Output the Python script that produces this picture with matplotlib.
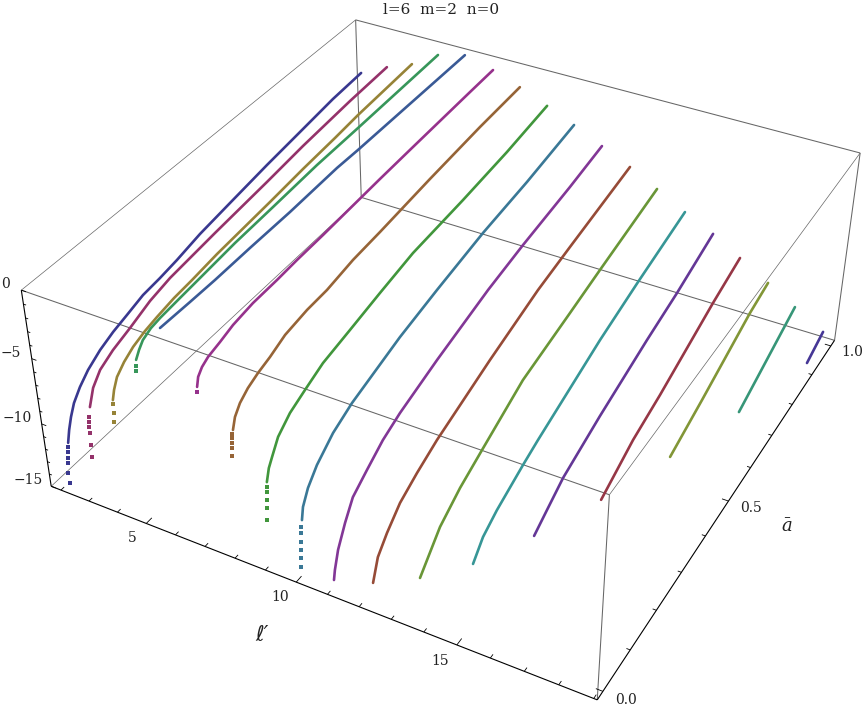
import numpy as np
import matplotlib
matplotlib.use('Agg')
import matplotlib.pyplot as plt

plt.rcParams['font.family'] = ['DejaVu Serif', 'DejaVu Sans']
plt.rcParams['mathtext.fontset'] = 'dejavuserif'

# l' of each curve, then abar and value along it
lp = [2.1, 3.1, 4.1, 5.1, 6.1, 7.1, 8.1, 9.1, 10.1, 11.1, 12.1, 13.1, 14.1, 15.1, 16.1, 17.1, 18.1, 19.1]

a1 = [0.991, 0.884, 0.753, 0.648, 0.523, 0.425, 0.352, 0.299, 0.248, 0.199, 0.158, 0.119, 0.082, 0.056, 0.036, 0.024, 0.015, 0.008, 0.006, 0.004, 0.002, 0.001, -0.003, -0.002]
z1 = [-3.52, -3.69, -4.11, -4.44, -4.91, -5.29, -5.73, -5.97, -6.13, -6.55, -6.89, -7.35, -8.00, -8.69, -9.43, -10.21, -11.00, -11.85, -12.13, -12.48, -12.91, -13.3, -14.0, -14.84]
a2 = [0.991, 0.851, 0.682, 0.559, 0.390, 0.252, 0.192, 0.132, 0.082, 0.044, 0.021, 0.007, 0.002, 0.0, -0.002, -0.001, -0.003, -0.004]
z2 = [-2.47, -2.64, -2.98, -3.34, -3.77, -4.18, -4.56, -5.21, -5.69, -6.26, -7.06, -8.18, -8.80, -9.15, -9.49, -9.97, -10.88, -11.78]
a3 = [0.986, 0.782, 0.700, 0.589, 0.479, 0.311, 0.235, 0.182, 0.132, 0.097, 0.063, 0.036, 0.014, 0.003, -0.003, -0.004, -0.004, -0.007]
z3 = [-1.56, -1.86, -2.07, -2.29, -2.58, -2.96, -3.23, -3.37, -3.63, -3.86, -4.21, -4.68, -5.26, -5.95, -6.57, -6.84, -7.51, -8.13]
a4 = [0.983, 0.685, 0.544, 0.401, 0.283, 0.174, 0.122, 0.066, 0.040, 0.017, 0.005, -0.005, -0.007, -0.008]
z4 = [-0.21, -0.40, -0.46, -0.68, -0.84, -1.12, -1.25, -1.40, -1.53, -1.84, -2.26, -2.74, -3.14, -3.47]
a5 = [0.981, 0.587, 0.516, 0.364, 0.242, 0.140, 0.070, -0.011]
z5 = [0.38, 0.47, 0.53, 0.40, 0.40, 0.36, 0.39, 0.45]
a6 = [0.983, 0.891, 0.673, 0.560, 0.371, 0.289, 0.228, 0.156, 0.098, 0.060, 0.026, 0.008, -0.004, -0.009, -0.010]
z6 = [-0.24, -0.29, -0.44, -0.53, -0.74, -0.79, -0.88, -0.92, -1.14, -1.46, -1.70, -1.99, -2.40, -3.00, -3.33]
a7 = [0.979, 0.820, 0.632, 0.458, 0.368, 0.284, 0.222, 0.155, 0.109, 0.073, 0.043, 0.019, 0.003, -0.005, -0.008, -0.009, -0.010, -0.011, -0.013]
z7 = [-0.92, -1.04, -1.33, -1.68, -1.81, -2.15, -2.19, -2.44, -2.94, -3.23, -3.58, -4.06, -4.67, -5.42, -5.63, -5.90, -6.24, -6.59, -7.14]
a8 = [0.976, 0.813, 0.645, 0.466, 0.354, 0.256, 0.171, 0.115, 0.069, 0.032, 0.012, 0.001, -0.007, -0.008, -0.009, -0.010, -0.012, -0.014]
z8 = [-1.73, -2.22, -2.53, -2.74, -3.23, -3.71, -4.11, -4.71, -5.24, -6.05, -7.01, -7.56, -8.40, -8.75, -9.11, -9.68, -10.25, -11.11]
a9 = [0.971, 0.778, 0.609, 0.443, 0.316, 0.160, 0.100, 0.049, 0.020, 0.003, -0.002, -0.006, -0.007, -0.008, -0.010, -0.011, -0.013]
z9 = [-2.53, -3.20, -3.61, -4.29, -4.90, -6.00, -6.70, -7.75, -8.70, -9.67, -10.54, -10.96, -11.40, -12.06, -12.65, -13.24, -13.92]
a10 = [0.970, 0.835, 0.648, 0.517, 0.336, 0.211, 0.155, 0.103, 0.058, 0.032, 0.008, -0.004, -0.008]
z10 = [-3.55, -4.09, -4.68, -5.23, -6.32, -7.23, -7.83, -8.73, -9.56, -10.80, -12.21, -13.45, -14.12]
a11 = [0.969, 0.717, 0.591, 0.413, 0.228, 0.161, 0.105, 0.062, 0.032, 0.015]
z11 = [-4.55, -5.62, -6.19, -7.41, -8.89, -9.64, -10.41, -11.53, -12.54, -14.07]
a12 = [0.963, 0.719, 0.599, 0.420, 0.274, 0.198, 0.130, 0.063]
z12 = [-5.53, -6.77, -7.42, -8.35, -10.03, -10.93, -12.08, -14.15]
a13 = [0.961, 0.756, 0.600, 0.362, 0.308, 0.215, 0.167, 0.133]
z13 = [-6.67, -7.81, -8.80, -10.74, -11.25, -12.26, -13.01, -14.16]
a14 = [0.959, 0.798, 0.670, 0.480, 0.340, 0.281, 0.235]
z14 = [-7.70, -8.93, -9.71, -11.07, -12.27, -13.21, -13.96]
a15 = [0.951, 0.828, 0.601, 0.491, 0.367]
z15 = [-8.78, -9.66, -11.63, -12.42, -13.89]
a16 = [0.949, 0.864, 0.652, 0.518]
z16 = [-10.05, -10.56, -12.52, -13.66]
a17 = [0.939, 0.683]
z17 = [-11.07, -13.47]
a18 = [0.936, 0.859]
z18 = [-12.29, -13.02]

abar = [a1, a2, a3, a4, a5, a6, a7, a8, a9, a10, a11, a12, a13, a14, a15, a16, a17, a18]
vals = [z1, z2, z3, z4, z5, z6, z7, z8, z9, z10, z11, z12, z13, z14, z15, z16, z17, z18]
# last points of a curve stand apart as single dots
n_dots = [6, 6, 3, 2, 0, 1, 5, 5, 6, 0, 0, 0, 0, 0, 0, 0, 0, 0]
colors = ['#39388f', '#94326a', '#968337', '#37965a', '#3a5a96', '#96328c', '#966437', '#41963c', '#3a7896',
          '#823796', '#964b37', '#699637', '#379696', '#643796', '#963746', '#829637', '#379678', '#463796']

lmin, lmax = 1.65, 19.1
amin, amax = -0.02, 1.02
zmin, zmax = -15, 0

fig = plt.figure(figsize=(8.64, 7.10), dpi=100)
S = np.exp(6.7464)
cx, cy = 449.82, 328.80
ax = fig.add_axes([(cx - S/2)/864, (710 - cy - S/2)/710, S/864, S/710], projection='3d')
ax.set_xlim(lmin, lmax, view_margin=0)
ax.set_ylim(amin, amax, view_margin=0)
ax.set_zlim(zmin, zmax, view_margin=0)
ax.view_init(36.1323, -61.6536, -0.1571)
ax.set_proj_type('persp', focal_length=np.exp(-0.8077))
ax.set_box_aspect((1, np.exp(0.0054), np.exp(-0.9201)))
ax.set_axis_off()
ax.computed_zorder = False

def seg(x, y, z, c='#666666', lw=0.75, zo=1):
    ax.plot(x, y, z, color=c, lw=lw, zorder=zo, clip_on=False, solid_capstyle='butt')

# box
seg([lmin, lmin], [amin, amax], [zmax, zmax], lw=0.5)
seg([lmin, lmax], [amax, amax], [zmax, zmax])
seg([lmax, lmax], [amin, amax], [zmax, zmax], lw=0.5)
seg([lmin, lmax], [amin, amin], [zmax, zmax])
seg([lmin, lmin], [amin, amax], [zmin, zmin], lw=0.5)
seg([lmin, lmax], [amax, amax], [zmin, zmin])
seg([lmin, lmin], [amax, amax], [zmin, zmax])
seg([lmax, lmax], [amax, amax], [zmin, zmax])
seg([lmax, lmax], [amin, amin], [zmin, zmax])

# axes in front
seg([lmin, lmin], [amin, amin], [zmin, zmax], c='k', lw=0.8, zo=2)
seg([lmin, lmax], [amin, amin], [zmin, zmin], c='k', lw=0.8, zo=2)
seg([lmax, lmax], [amin, amax], [zmin, zmin], c='k', lw=0.8, zo=2)

for t in range(-15, 1):
    d = 0.16 if t % 5 == 0 else 0.09
    seg([lmin, lmin + d], [amin, amin], [t, t], c='k', lw=0.6, zo=2)
for t in range(2, 20):
    d = 0.016 if t % 5 == 0 else 0.009
    seg([t, t], [amin, amin + d], [zmin, zmin], c='k', lw=0.6, zo=2)
for i in range(11):
    d = 0.2 if i % 5 == 0 else 0.11
    seg([lmax, lmax - d], [i/10, i/10], [zmin, zmin], c='k', lw=0.6, zo=2)

# curves
for l, a, z, nd, c in zip(lp, abar, vals, n_dots, colors):
    a = np.array(a)
    z = np.array(z)
    x = np.full(len(a), l)
    n = len(a) - nd
    ax.plot(x[:n], a[:n], z[:n], color=c, lw=1.9, zorder=3, clip_on=False, solid_capstyle='round', solid_joinstyle='round')
    if nd:
        ax.plot(x[n:], a[n:], z[n:], ls='none', marker='s', ms=2.8, mew=0, color=c, zorder=3, clip_on=False)

def label(px, py, s, fontsize=10, **kw):
    fig.text(px/864, 1 - py/710, s, ha='center', va='center', fontsize=fontsize, color='#222222', **kw)

label(441, 10, 'l=6  m=2  n=0', fontsize=11)
label(6, 284, '0')
label(11, 353, '\u22125')
label(17, 418, '\u221210')
label(28, 480, '\u221215')
label(132, 538, '5')
label(280, 597, '10')
label(440, 661, '15')
label(626, 700, '0.0')
label(751, 508, '0.5')
label(852, 352, '1.0')
label(262, 635, '\u2113\u2032', fontsize=15, family=['DejaVu Sans'], style='italic')
label(787, 527, r'$\bar{a}$', fontsize=13)

fig.savefig('out.png', dpi=100)
